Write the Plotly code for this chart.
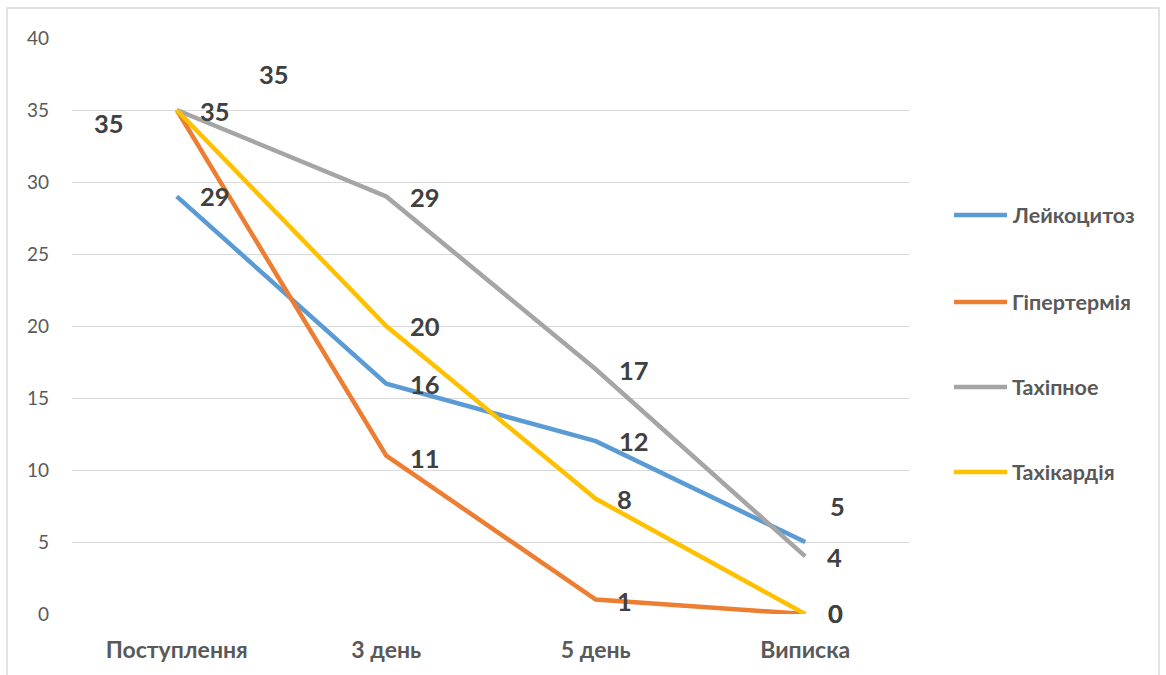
import plotly.graph_objects as go

# Categories and series values
categories = ["Поступлення", "3 день", "5 день", "Виписка"]
series_names = ["Лейкоцитоз", "Гіпертермія", "Тахіпное", "Тахікардія"]
leukocytosis = [29, 16, 12, 5]
hyperthermia = [35, 11, 1, 0]
tachypnea = [35, 29, 17, 4]
tachycardia = [35, 20, 8, 0]
y_ticks = [0, 5, 10, 15, 20, 25, 30, 35, 40]

series_values = [leukocytosis, hyperthermia, tachypnea, tachycardia]
colors = ["#5B9BD5", "#ED7D31", "#A5A5A5", "#FFC000"]

# pixel offsets of value labels relative to their points (dx right, dy up)
label_offsets = [
    [(38, 0), (39, 0), (38, 0), (32, 36)],
    [(-68, -13), (39, -2), (29, -1), (30, 1)],
    [(97, 36), (39, -1), (38, -1), (29, -1)],
    [(38, -1), (39, 0), (29, 0), (30, 1)],
]

W, H = 1166, 675
L, R, T, B = 72, 256, 38, 61
plot_w = W - L - R
plot_h = H - T - B

FONT = "Lato, 'Open Sans', sans-serif"


def px_x(px):
    return (px - L) / plot_w


def px_y(py):
    return (H - B - py) / plot_h


fig = go.Figure()
annotations = []
shapes = []

for name, vals, color, offs in zip(series_names, series_values, colors, label_offsets):
    fig.add_trace(go.Scatter(
        x=categories, y=vals, mode="lines", name=name,
        line=dict(color=color, width=4.5),
        hoverinfo="skip", showlegend=False,
    ))
    for cat, v, (dx, dy) in zip(categories, vals, offs):
        annotations.append(dict(
            x=cat, y=v, xref="x", yref="y", text=str(v), showarrow=False,
            xshift=dx, yshift=dy, xanchor="center", yanchor="middle",
            font=dict(family=FONT, size=25.5, color="#404040", weight="bold"),
        ))

# legend drawn at the right side
legend_y = [215, 302, 387, 472]
for name, color, ly in zip(series_names, colors, legend_y):
    shapes.append(dict(
        type="line", xref="paper", yref="paper",
        x0=px_x(954), x1=px_x(1007), y0=px_y(ly), y1=px_y(ly),
        line=dict(color=color, width=4.5),
    ))
    annotations.append(dict(
        x=px_x(1010), y=px_y(ly), xref="paper", yref="paper", text=name,
        showarrow=False, xanchor="left", yanchor="middle",
        font=dict(family=FONT, size=21.5, color="#595959", weight="bold"),
    ))

# chart border
shapes.append(dict(
    type="rect", xref="paper", yref="paper",
    x0=px_x(7), x1=px_x(1159), y0=px_y(690), y1=px_y(8),
    line=dict(color="#D9D9D9", width=1.5), fillcolor="rgba(0,0,0,0)",
    layer="below",
))

fig.update_layout(
    width=W, height=H,
    margin=dict(l=L, r=R, t=T, b=B),
    paper_bgcolor="white", plot_bgcolor="white",
    showlegend=False,
    annotations=annotations,
    shapes=shapes,
    xaxis=dict(
        type="category", categoryorder="array", categoryarray=categories,
        range=[-0.5, 3.5], showgrid=False, zeroline=False, showline=False,
        ticks="", ticklabelstandoff=20,
        tickfont=dict(family=FONT, size=23, color="#595959", weight="bold"),
    ),
    yaxis=dict(
        range=[0, 40], tickvals=y_ticks, showgrid=True, gridcolor="#D9D9D9",
        gridwidth=1, zeroline=False, showline=False, ticks="",
        ticklabelstandoff=22,
        tickfont=dict(family=FONT, size=19, color="#595959"),
    ),
)

fig.write_html("out.html")
